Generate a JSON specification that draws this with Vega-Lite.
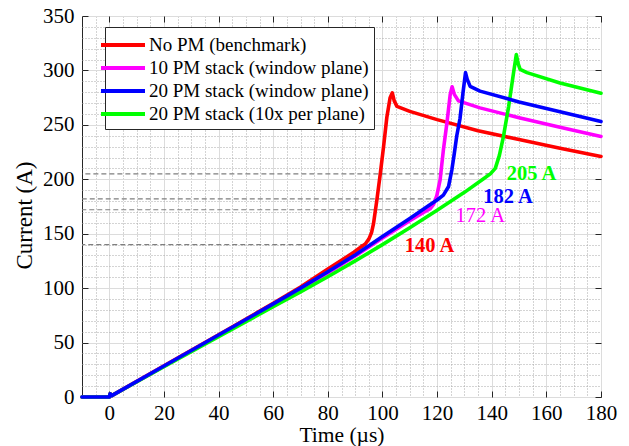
{
  "$schema": "https://vega.github.io/schema/vega-lite/v6.json",
  "width": 519,
  "height": 381,
  "autosize": {"type": "none"},
  "padding": {"left": 82, "top": 16, "right": 28, "bottom": 49},
  "background": "white",
  "config": {
    "font": "Liberation Serif",
    "view": {"stroke": "#262626", "strokeWidth": 1},
    "text": {"font": "Liberation Serif"},
    "legend": {"labelFont": "Liberation Serif", "titleFont": "Liberation Serif"},
    "axis": {
      "domain": false,
      "labelFont": "Liberation Serif",
      "titleFont": "Liberation Serif",
      "labelColor": "black",
      "titleColor": "black",
      "titleFontWeight": "normal",
      "labelFlush": false,
      "labelOverlap": false,
      "tickColor": "#262626",
      "gridColor": "#dcdcdc",
      "gridWidth": 1
    }
  },
  "datasets": {
    "curves": [
      {"s": "No PM (benchmark)", "t": -10, "i": 0},
      {"s": "No PM (benchmark)", "t": 0, "i": 0},
      {"s": "No PM (benchmark)", "t": 0.3, "i": 3},
      {"s": "No PM (benchmark)", "t": 0.9, "i": 1.3},
      {"s": "No PM (benchmark)", "t": 20, "i": 28.6},
      {"s": "No PM (benchmark)", "t": 40, "i": 57.2},
      {"s": "No PM (benchmark)", "t": 60, "i": 86},
      {"s": "No PM (benchmark)", "t": 70, "i": 101},
      {"s": "No PM (benchmark)", "t": 80, "i": 117.5},
      {"s": "No PM (benchmark)", "t": 85, "i": 125.5},
      {"s": "No PM (benchmark)", "t": 89.5, "i": 133},
      {"s": "No PM (benchmark)", "t": 92, "i": 137.5},
      {"s": "No PM (benchmark)", "t": 93.7, "i": 140.5},
      {"s": "No PM (benchmark)", "t": 95, "i": 145},
      {"s": "No PM (benchmark)", "t": 96, "i": 151},
      {"s": "No PM (benchmark)", "t": 96.7, "i": 159},
      {"s": "No PM (benchmark)", "t": 97.9, "i": 180},
      {"s": "No PM (benchmark)", "t": 99.2, "i": 205},
      {"s": "No PM (benchmark)", "t": 100.4, "i": 230},
      {"s": "No PM (benchmark)", "t": 101.6, "i": 257},
      {"s": "No PM (benchmark)", "t": 102.8, "i": 275},
      {"s": "No PM (benchmark)", "t": 103.6, "i": 279.4},
      {"s": "No PM (benchmark)", "t": 104.3, "i": 272},
      {"s": "No PM (benchmark)", "t": 105.3, "i": 267},
      {"s": "No PM (benchmark)", "t": 110, "i": 262.4},
      {"s": "No PM (benchmark)", "t": 120, "i": 254.8},
      {"s": "No PM (benchmark)", "t": 135, "i": 244.5},
      {"s": "No PM (benchmark)", "t": 150, "i": 236.5},
      {"s": "No PM (benchmark)", "t": 165, "i": 228.5},
      {"s": "No PM (benchmark)", "t": 180, "i": 221},

      {"s": "10 PM stack (window plane)", "t": -10, "i": 0},
      {"s": "10 PM stack (window plane)", "t": 0, "i": 0},
      {"s": "10 PM stack (window plane)", "t": 0.3, "i": 3},
      {"s": "10 PM stack (window plane)", "t": 0.9, "i": 1.3},
      {"s": "10 PM stack (window plane)", "t": 20, "i": 28.2},
      {"s": "10 PM stack (window plane)", "t": 40, "i": 56.5},
      {"s": "10 PM stack (window plane)", "t": 60, "i": 85},
      {"s": "10 PM stack (window plane)", "t": 70, "i": 99.5},
      {"s": "10 PM stack (window plane)", "t": 80, "i": 114},
      {"s": "10 PM stack (window plane)", "t": 90, "i": 129.5},
      {"s": "10 PM stack (window plane)", "t": 100, "i": 146},
      {"s": "10 PM stack (window plane)", "t": 110, "i": 162},
      {"s": "10 PM stack (window plane)", "t": 115, "i": 169.5},
      {"s": "10 PM stack (window plane)", "t": 117.5, "i": 173},
      {"s": "10 PM stack (window plane)", "t": 118.7, "i": 177},
      {"s": "10 PM stack (window plane)", "t": 119.9, "i": 185},
      {"s": "10 PM stack (window plane)", "t": 121.1, "i": 199.5},
      {"s": "10 PM stack (window plane)", "t": 122.3, "i": 227},
      {"s": "10 PM stack (window plane)", "t": 123.6, "i": 252},
      {"s": "10 PM stack (window plane)", "t": 124.8, "i": 278},
      {"s": "10 PM stack (window plane)", "t": 125.5, "i": 285},
      {"s": "10 PM stack (window plane)", "t": 126.3, "i": 278},
      {"s": "10 PM stack (window plane)", "t": 127.8, "i": 272},
      {"s": "10 PM stack (window plane)", "t": 135.7, "i": 265.6},
      {"s": "10 PM stack (window plane)", "t": 150, "i": 256.5},
      {"s": "10 PM stack (window plane)", "t": 165, "i": 247.8},
      {"s": "10 PM stack (window plane)", "t": 180, "i": 239.4},

      {"s": "20 PM stack (10x per plane)", "t": -10, "i": 0},
      {"s": "20 PM stack (10x per plane)", "t": 0, "i": 0},
      {"s": "20 PM stack (10x per plane)", "t": 0.3, "i": 3},
      {"s": "20 PM stack (10x per plane)", "t": 0.9, "i": 1.3},
      {"s": "20 PM stack (10x per plane)", "t": 20, "i": 27.8},
      {"s": "20 PM stack (10x per plane)", "t": 40, "i": 55.5},
      {"s": "20 PM stack (10x per plane)", "t": 60, "i": 83},
      {"s": "20 PM stack (10x per plane)", "t": 70, "i": 96.5},
      {"s": "20 PM stack (10x per plane)", "t": 80, "i": 110.5},
      {"s": "20 PM stack (10x per plane)", "t": 90, "i": 125},
      {"s": "20 PM stack (10x per plane)", "t": 100, "i": 140},
      {"s": "20 PM stack (10x per plane)", "t": 110, "i": 155.5},
      {"s": "20 PM stack (10x per plane)", "t": 120, "i": 171.5},
      {"s": "20 PM stack (10x per plane)", "t": 130, "i": 188},
      {"s": "20 PM stack (10x per plane)", "t": 137, "i": 200.5},
      {"s": "20 PM stack (10x per plane)", "t": 139.5, "i": 205},
      {"s": "20 PM stack (10x per plane)", "t": 141.3, "i": 210},
      {"s": "20 PM stack (10x per plane)", "t": 142.8, "i": 222},
      {"s": "20 PM stack (10x per plane)", "t": 144.3, "i": 239.5},
      {"s": "20 PM stack (10x per plane)", "t": 146.2, "i": 267},
      {"s": "20 PM stack (10x per plane)", "t": 148, "i": 298},
      {"s": "20 PM stack (10x per plane)", "t": 149, "i": 314.6},
      {"s": "20 PM stack (10x per plane)", "t": 149.7, "i": 306},
      {"s": "20 PM stack (10x per plane)", "t": 150.4, "i": 301},
      {"s": "20 PM stack (10x per plane)", "t": 152.9, "i": 298},
      {"s": "20 PM stack (10x per plane)", "t": 165, "i": 288.5},
      {"s": "20 PM stack (10x per plane)", "t": 180, "i": 279},

      {"s": "20 PM stack (window plane)", "t": -10, "i": 0},
      {"s": "20 PM stack (window plane)", "t": 0, "i": 0},
      {"s": "20 PM stack (window plane)", "t": 0.3, "i": 3},
      {"s": "20 PM stack (window plane)", "t": 0.9, "i": 1.3},
      {"s": "20 PM stack (window plane)", "t": 20, "i": 28.5},
      {"s": "20 PM stack (window plane)", "t": 40, "i": 57},
      {"s": "20 PM stack (window plane)", "t": 60, "i": 85.5},
      {"s": "20 PM stack (window plane)", "t": 70, "i": 100},
      {"s": "20 PM stack (window plane)", "t": 80, "i": 115},
      {"s": "20 PM stack (window plane)", "t": 90, "i": 130.5},
      {"s": "20 PM stack (window plane)", "t": 100, "i": 147.5},
      {"s": "20 PM stack (window plane)", "t": 110, "i": 164},
      {"s": "20 PM stack (window plane)", "t": 117.5, "i": 176.8},
      {"s": "20 PM stack (window plane)", "t": 120, "i": 181},
      {"s": "20 PM stack (window plane)", "t": 122.3, "i": 185.5},
      {"s": "20 PM stack (window plane)", "t": 124.2, "i": 193.4},
      {"s": "20 PM stack (window plane)", "t": 125.4, "i": 208.7},
      {"s": "20 PM stack (window plane)", "t": 126.2, "i": 222},
      {"s": "20 PM stack (window plane)", "t": 127.2, "i": 240},
      {"s": "20 PM stack (window plane)", "t": 128.4, "i": 256},
      {"s": "20 PM stack (window plane)", "t": 129.5, "i": 280},
      {"s": "20 PM stack (window plane)", "t": 130.4, "i": 298},
      {"s": "20 PM stack (window plane)", "t": 131, "i": 292},
      {"s": "20 PM stack (window plane)", "t": 132.1, "i": 285.4},
      {"s": "20 PM stack (window plane)", "t": 135.7, "i": 281},
      {"s": "20 PM stack (window plane)", "t": 150, "i": 271},
      {"s": "20 PM stack (window plane)", "t": 165, "i": 262},
      {"s": "20 PM stack (window plane)", "t": 180, "i": 253}
    ],
    "knees": [
      {"s": "No PM (benchmark)", "i": 140, "t": 93.7, "label": "140 A", "lt": 117.2, "li": 139},
      {"s": "10 PM stack (window plane)", "i": 172, "t": 117.5, "label": "172 A", "lt": 135.8, "li": 166},
      {"s": "20 PM stack (window plane)", "i": 182, "t": 120.6, "label": "182 A", "lt": 146, "li": 183.7},
      {"s": "20 PM stack (10x per plane)", "i": 205, "t": 139.5, "label": "205 A", "lt": 154.6, "li": 205}
    ]
  },
  "layer": [
    {
      "data": {"name": "curves"},
      "mark": {"type": "line", "opacity": 0},
      "encoding": {
        "x": {
          "field": "t", "type": "quantitative",
          "scale": {"domain": [-10, 180], "nice": false, "zero": false},
          "axis": {
            "orient": "bottom", "title": null, "labels": false, "ticks": false,
            "grid": true, "gridDash": [1, 2], "gridColor": "#a8a8a8",
            "values": [-5, 5, 10, 15, 25, 30, 35, 45, 50, 55, 65, 70, 75, 85, 90, 95, 105, 110, 115, 125, 130, 135, 145, 150, 155, 165, 170, 175]
          }
        },
        "y": {
          "field": "i", "type": "quantitative",
          "scale": {"domain": [0, 350], "nice": false, "zero": false},
          "axis": {
            "orient": "left", "title": null, "labels": false, "ticks": false,
            "grid": true, "gridDash": [1, 2], "gridColor": "#a8a8a8",
            "values": [10, 20, 30, 40, 60, 70, 80, 90, 110, 120, 130, 140, 160, 170, 180, 190, 210, 220, 230, 240, 260, 270, 280, 290, 310, 320, 330, 340]
          }
        }
      }
    },
    {
      "data": {"name": "curves"},
      "mark": {"type": "line", "opacity": 0},
      "encoding": {
        "x": {
          "field": "t", "type": "quantitative",
          "axis": {
            "orient": "top", "title": null, "labels": false, "grid": false,
            "ticks": true, "tickSize": -6,
            "values": [0, 20, 40, 60, 80, 100, 120, 140, 160, 180]
          }
        },
        "y": {
          "field": "i", "type": "quantitative",
          "axis": {
            "orient": "right", "title": null, "labels": false, "grid": false,
            "ticks": true, "tickSize": -6,
            "values": [0, 50, 100, 150, 200, 250, 300, 350]
          }
        }
      }
    },
    {
      "data": {"name": "knees"},
      "mark": {"type": "rule", "color": "#7f7f7f", "strokeWidth": 1.2, "strokeDash": [5, 3]},
      "encoding": {
        "x": {"field": "t", "type": "quantitative", "axis": null},
        "x2": {"datum": -10},
        "y": {"field": "i", "type": "quantitative", "axis": null}
      }
    },
    {
      "data": {"name": "curves"},
      "mark": {"type": "line", "strokeWidth": 3.6, "strokeJoin": "round", "strokeCap": "round"},
      "encoding": {
        "x": {
          "field": "t", "type": "quantitative",
          "axis": {
            "orient": "bottom", "title": "Time (µs)", "grid": true,
            "values": [0, 20, 40, 60, 80, 100, 120, 140, 160, 180],
            "ticks": true, "tickSize": -6,
            "labelFontSize": 21, "labelPadding": 11, "titleFontSize": 21.5, "titlePadding": 1
          }
        },
        "y": {
          "field": "i", "type": "quantitative",
          "axis": {
            "orient": "left", "title": "Current (A)", "grid": true,
            "values": [0, 50, 100, 150, 200, 250, 300, 350],
            "ticks": true, "tickSize": -6,
            "labelFontSize": 21, "labelPadding": 14, "titleFontSize": 23, "titlePadding": 6,
            "titleY": 199
          }
        },
        "color": {
          "field": "s", "type": "nominal",
          "scale": {
            "domain": ["No PM (benchmark)", "10 PM stack (window plane)", "20 PM stack (window plane)", "20 PM stack (10x per plane)"],
            "range": ["#ff0000", "#ff00ff", "#0000ff", "#00ff00"]
          },
          "legend": {
            "orient": "none", "legendX": 23, "legendY": 11, "title": null,
            "symbolType": "M-2,0H2", "symbolSize": 484, "symbolStrokeWidth": 4,
            "labelFont": "Liberation Serif",
            "labelFontSize": 19, "labelColor": "black", "labelOffset": 13, "labelLimit": 400,
            "padding": 5, "rowPadding": -1.5,
            "strokeColor": "#262626", "fillColor": "white"
          }
        }
      }
    },
    {
      "data": {"name": "knees"},
      "transform": [{"filter": "datum.label !== '172 A'"}],
      "mark": {"type": "text", "font": "Liberation Serif", "fontSize": 20.5, "fontWeight": "bold", "align": "center", "baseline": "middle"},
      "encoding": {
        "x": {"field": "lt", "type": "quantitative", "axis": null},
        "y": {"field": "li", "type": "quantitative", "axis": null},
        "text": {"field": "label"},
        "color": {"field": "s", "type": "nominal", "legend": null}
      }
    },
    {
      "data": {"name": "knees"},
      "transform": [{"filter": "datum.label === '172 A'"}],
      "mark": {"type": "text", "font": "Liberation Serif", "fontSize": 20.5, "fontWeight": "normal", "align": "center", "baseline": "middle"},
      "encoding": {
        "x": {"field": "lt", "type": "quantitative", "axis": null},
        "y": {"field": "li", "type": "quantitative", "axis": null},
        "text": {"field": "label"},
        "color": {"field": "s", "type": "nominal", "legend": null}
      }
    }
  ],
  "resolve": {"axis": {"x": "independent", "y": "independent"}}
}
